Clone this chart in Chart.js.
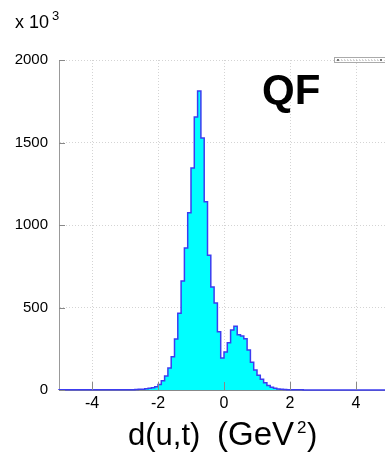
<!DOCTYPE html>
<html>
<head>
<meta charset="utf-8">
<script src="https://cdn.jsdelivr.net/npm/chart.js@4/dist/chart.umd.min.js"></script>
<style>
  html, body { margin: 0; padding: 0; overflow: hidden; background: #fff; }
  #wrap { position: absolute; left: 0; top: 0; width: 390px; height: 452px; }
</style>
</head>
<body>
<div id="wrap"><canvas id="canvas" width="390" height="452"></canvas></div>
<script>
// histogram of d(u,t), bins of 0.1 GeV^2, counts in units of 10^3
const binStart = -3.3;
const binWidth = 0.1;
const counts = [
  1, 1, 1, 1, 1, 2, 2, 3, 4, 5,            // -3.3 .. -2.4
  7, 10, 14, 20, 34, 56, 85, 133, 202, 309, // -2.4 .. -1.4
  465, 660, 861, 1075, 1345, 1655, 1812,    // -1.4 .. -0.7
  1527, 1141, 816, 624, 527, 353, 194,      // -0.7 .. 0.0
  230, 287, 364, 386, 335, 327, 310, 242, 168, 121, // 0.0 .. 1.0
  90, 65, 44, 28, 17, 10, 6, 4, 3, 2,       // 1.0 .. 2.0
  1, 1, 1, 1                                // 2.0 .. 2.4
];
const xRange = [-5, 5];
const yRange = [0, 2000];
const xTicks = [-4, -2, 0, 2, 4];
const yTicks = [0, 500, 1000, 1500, 2000];

// step outline points (left edge of each bin) plus zero line across the axis
const pts = [{ x: xRange[0], y: 0 }];
for (let i = 0; i < counts.length; i++) {
  pts.push({ x: +(binStart + i * binWidth).toFixed(2), y: counts[i] });
}
pts.push({ x: +(binStart + counts.length * binWidth).toFixed(2), y: 0 });
pts.push({ x: xRange[1], y: 0 });

const FONT = "'Liberation Sans', Arial, Helvetica, sans-serif";

const extras = {
  id: 'extras',
  afterDraw(chart) {
    const ctx = chart.ctx;
    const a = chart.chartArea;
    const xs = chart.scales.x, ys = chart.scales.y;
    ctx.save();
    // inside tick marks
    ctx.strokeStyle = '#888';
    ctx.lineWidth = 1;
    xTicks.forEach(t => {
      const px = Math.round(xs.getPixelForValue(t)) + 0.5;
      ctx.beginPath(); ctx.moveTo(px, a.bottom); ctx.lineTo(px, a.bottom - 8); ctx.stroke();
    });
    yTicks.forEach(t => {
      const py = Math.round(ys.getPixelForValue(t)) + 0.5;
      ctx.beginPath(); ctx.moveTo(a.left, py); ctx.lineTo(a.left + 6, py); ctx.stroke();
    });

    ctx.fillStyle = '#000';
    // exponent label
    ctx.textAlign = 'left';
    ctx.textBaseline = 'alphabetic';
    ctx.font = '18px ' + FONT;
    ctx.fillText('x 10', 15, 28);
    ctx.font = '13px ' + FONT;
    ctx.fillText('3', 52, 20);

    // QF label
    ctx.font = 'bold 42px ' + FONT;
    ctx.fillText('QF', 262, 104);

    // x axis title
    ctx.font = '31px ' + FONT;
    ctx.fillText('d(u,t)', 128, 445);
    ctx.font = '33px ' + FONT;
    ctx.fillText('(GeV', 217, 445);
    ctx.font = '17px ' + FONT;
    ctx.fillText('2', 297, 433);
    ctx.font = '31px ' + FONT;
    ctx.fillText(')', 307, 445);

    // small collapsed box at top right
    ctx.strokeStyle = '#aaa';
    ctx.strokeRect(334.5, 57.5, 60, 5);
    ctx.setLineDash([1, 2]);
    ctx.beginPath(); ctx.moveTo(338, 60); ctx.lineTo(380, 60); ctx.stroke();
    ctx.setLineDash([]);
    ctx.fillStyle = '#777';
    ctx.fillRect(337, 59, 2, 2);
    ctx.fillRect(380, 59, 2, 2);
    ctx.restore();
  }
};

const ctx = document.getElementById('canvas').getContext('2d');
const myChart = new Chart(ctx, {
  type: 'line',
  data: {
    datasets: [{
      data: pts,
      stepped: 'after',
      fill: 'origin',
      backgroundColor: '#00ffff',
      borderColor: '#3c3cf0',
      borderWidth: 1.5,
      pointRadius: 0,
      clip: 3
    }]
  },
  options: {
    responsive: false,
    animation: false,
    devicePixelRatio: 1,
    layout: { padding: { top: 60, right: 1, left: 0, bottom: 0 } },
    plugins: { legend: { display: false }, tooltip: { enabled: false } },
    scales: {
      x: {
        type: 'linear',
        min: xRange[0],
        max: xRange[1],
        afterFit: s => { s.height = 62; },
        afterBuildTicks: s => { s.ticks = xTicks.map(v => ({ value: v })); },
        ticks: { font: { size: 16, family: FONT }, color: '#000', padding: 4, maxRotation: 0, callback: v => String(v) },
        grid: { color: '#d4d4d4', drawTicks: false },
        border: { color: '#888', dash: [1, 2] }
      },
      y: {
        min: yRange[0],
        max: yRange[1],
        afterFit: s => { s.width = 59; },
        afterBuildTicks: s => { s.ticks = yTicks.map(v => ({ value: v })); },
        ticks: { font: { size: 15, family: FONT }, color: '#000', padding: 11, callback: v => String(v) },
        grid: { color: '#d4d4d4', drawTicks: false },
        border: { color: '#999', dash: [1, 2] }
      }
    }
  },
  plugins: [extras]
});
</script>
</body>
</html>
